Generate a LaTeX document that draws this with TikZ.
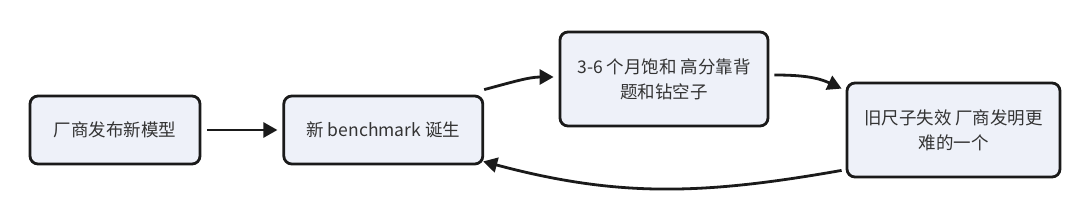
\documentclass[tikz,border=0pt]{standalone}
\usepackage{fontspec}
\setmainfont{Noto Sans CJK SC}
\usepackage{tikz}
\usetikzlibrary{shapes,arrows.meta,positioning,calc}
\definecolor{boxfill}{HTML}{EEF1F9}
\definecolor{boxline}{HTML}{1A1A1A}
\definecolor{boxtext}{HTML}{333333}
\tikzset{
	flowbox/.style={rectangle, draw=boxline, line width=2.8pt, rounded corners=8pt, fill=boxfill,
		minimum height=68pt, align=center, text=boxtext, inner sep=3pt,
		font=\fontsize{17.5}{25}\selectfont},
	flowarr/.style={-{Triangle[length=14pt,width=15pt]}, line width=2.8pt, draw=boxline}
}

\begin{document}
\begin{tikzpicture}[x=1pt, y=1pt]
			\useasboundingbox (0,0) rectangle (1080,204);
			\node[flowbox, minimum width=170pt] (vendor) at (115,74) {厂商发布新模型};
			\node[flowbox, right=81pt of vendor, minimum width=199pt] (bench) {新 benchmark 诞生};
			\node[flowbox, minimum width=208pt, minimum height=94pt] (sat) at (664,125) {3-6 个月饱和 高分靠背\\题和钻空子};
			\node[flowbox, minimum width=213pt, minimum height=94pt] (fail) at (953.5,74) {旧尺子失效 厂商发明更\\难的一个};
			\draw[flowarr, shorten <=6pt, shorten >=5pt] (vendor.east) -- (bench.west);
			\draw[flowarr, shorten >=5pt] ([yshift=5pt]bench.north east) to[out=15,in=180] ([yshift=2pt]sat.west);
			\draw[flowarr] ([shift={(5pt,4pt)}]sat.east) to[out=0,in=155] ([shift={(-4pt,-7pt)}]fail.north west);
			\draw[flowarr] ([shift={(-4pt,8pt)}]fail.south west) to[out=190,in=-15] ([shift={(-1pt,4pt)}]bench.south east);
		\end{tikzpicture}
\end{document}
